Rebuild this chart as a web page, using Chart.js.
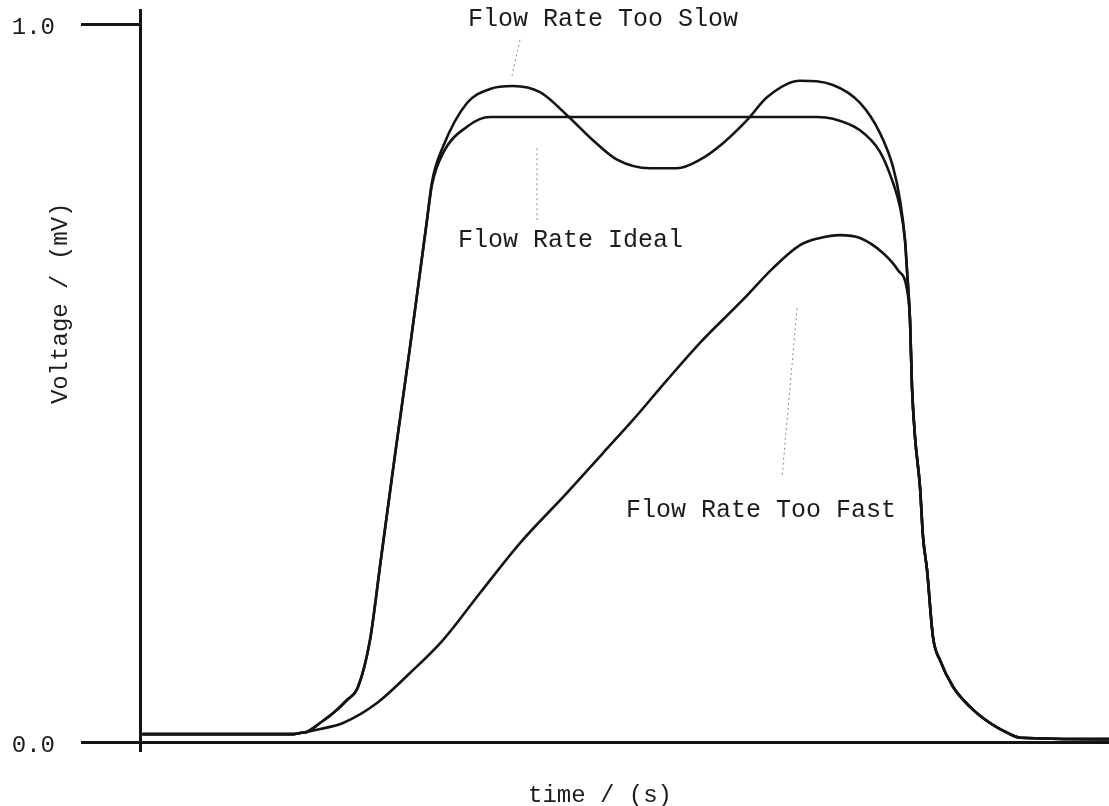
<!DOCTYPE html>
<html>
<head>
<meta charset="utf-8">
<script src="https://cdn.jsdelivr.net/npm/chart.js@4"></script>
<style>
  html, body { margin: 0; padding: 0; background: #fff; }
  #wrap { width: 1109px; height: 806px; position: relative; }
</style>
</head>
<body>
<div id="wrap"><canvas id="c"></canvas></div>
<script>
// Detector trace for three flow rates: voltage against time.
const idealTime = [0.3, 15.3, 16.0, 16.7, 18.0, 19.3, 20.7, 21.8, 23.0, 24.05, 25.5, 27.0, 28.25, 28.7, 29.2, 30.3, 32.7, 35.0, 51.0, 67.7, 69.3, 72.0, 74.0, 75.2, 76.0, 76.5, 76.7, 77.0, 77.2, 77.5, 78.0, 78.3, 78.7, 79.3, 80.0, 81.3, 83.0, 85.0, 86.7, 88.0, 96.9];
const idealVoltage = [0.011, 0.011, 0.0125, 0.014, 0.0265, 0.040, 0.0585, 0.0766, 0.142, 0.250, 0.400, 0.550, 0.680, 0.727, 0.776, 0.820, 0.857, 0.8705, 0.8705, 0.8705, 0.868, 0.852, 0.822, 0.783, 0.745, 0.699, 0.657, 0.588, 0.494, 0.425, 0.355, 0.286, 0.240, 0.146, 0.114, 0.077, 0.049, 0.0265, 0.013, 0.006, 0.004];

const slowTime = [0.3, 15.3, 16.0, 16.7, 18.0, 19.3, 20.7, 21.8, 23.0, 24.05, 25.5, 27.0, 28.25, 28.7, 29.2, 30.3, 32.7, 35.0, 37.3, 40.0, 42.7, 45.3, 47.7, 51.0, 53.7, 56.0, 58.3, 60.7, 62.7, 66.0, 69.3, 72.0, 74.0, 75.3, 76.0, 76.5, 76.7, 77.0, 77.2, 77.5, 78.0, 78.3, 78.7, 79.3, 80.0, 81.3, 83.0, 85.0, 86.7, 88.0, 96.9];
const slowVoltage = [0.011, 0.011, 0.0125, 0.014, 0.0265, 0.040, 0.0585, 0.0766, 0.142, 0.250, 0.400, 0.550, 0.680, 0.727, 0.780, 0.829, 0.890, 0.9095, 0.9136, 0.905, 0.873, 0.838, 0.811, 0.799, 0.799, 0.811, 0.834, 0.866, 0.898, 0.921, 0.915, 0.890, 0.848, 0.801, 0.755, 0.699, 0.657, 0.588, 0.494, 0.425, 0.355, 0.286, 0.240, 0.146, 0.114, 0.077, 0.049, 0.0265, 0.013, 0.006, 0.004];

const fastTime = [0.3, 15.3, 16.0, 18.0, 20.3, 23.7, 27.0, 30.3, 34.0, 38.0, 42.7, 46.3, 49.3, 52.7, 56.0, 60.3, 63.3, 66.0, 68.0, 70.0, 72.0, 74.3, 75.8, 76.7, 77.0, 77.2, 77.5, 78.0, 78.3, 78.7, 79.3, 80.0, 81.3, 83.0, 85.0, 86.7, 88.0, 96.9];
const fastVoltage = [0.011, 0.011, 0.0125, 0.018, 0.0265, 0.0543, 0.0961, 0.142, 0.2075, 0.277, 0.347, 0.4025, 0.4485, 0.504, 0.556, 0.616, 0.660, 0.692, 0.702, 0.706, 0.702, 0.681, 0.657, 0.630, 0.588, 0.494, 0.425, 0.355, 0.286, 0.240, 0.146, 0.114, 0.077, 0.049, 0.0265, 0.013, 0.006, 0.004];

const yTickValues = [0, 1.0];
const xTickValues = [0];

const curveNames = ['Flow Rate Too Slow', 'Flow Rate Ideal', 'Flow Rate Too Fast'];
const labelTime = [32.8, 31.8, 48.6];
const labelVoltage = [1.007, 0.698, 0.323];
const leaderStart = [[38.0, 0.978], [39.7, 0.827], [65.7, 0.604]];
const leaderEnd = [[37.2, 0.928], [39.7, 0.727], [64.2, 0.368]];

const yTitle = 'Voltage / (mV)';
const xTitle = 'time / (s)';

const FONT = '"Liberation Mono", "Courier New", monospace';
const INK = '#141414';

const toPoints = (t, v) => t.map((x, i) => ({ x, y: v[i] }));

const curveStyle = {
  borderColor: INK,
  borderWidth: 2.6,
  pointRadius: 0,
  fill: false,
  cubicInterpolationMode: 'monotone',
  borderCapStyle: 'round',
  borderJoinStyle: 'round'
};

const notes = {
  id: 'notes',
  afterDraw(chart) {
    const { ctx, scales: { x, y }, chartArea } = chart;
    ctx.save();
    // leader lines from each caption to its curve
    ctx.strokeStyle = '#8a8a8a';
    ctx.lineWidth = 1;
    ctx.setLineDash([2, 3]);
    leaderStart.forEach((s, i) => {
      const e = leaderEnd[i];
      ctx.beginPath();
      ctx.moveTo(x.getPixelForValue(s[0]), y.getPixelForValue(s[1]));
      ctx.lineTo(x.getPixelForValue(e[0]), y.getPixelForValue(e[1]));
      ctx.stroke();
    });
    ctx.setLineDash([]);

    // curve captions
    ctx.fillStyle = '#1c1c1c';
    ctx.font = '25px ' + FONT;
    ctx.textAlign = 'left';
    ctx.textBaseline = 'middle';
    curveNames.forEach((name, i) => {
      ctx.fillText(name, x.getPixelForValue(labelTime[i]), y.getPixelForValue(labelVoltage[i]));
    });

    // axis titles
    ctx.font = '24px ' + FONT;
    ctx.textAlign = 'center';
    ctx.fillText(xTitle, x.getPixelForValue(46.0), chartArea.bottom + 54);
    ctx.save();
    ctx.translate(chartArea.left - 79, y.getPixelForValue(0.611));
    ctx.rotate(-Math.PI / 2);
    ctx.fillText(yTitle, 0, 0);
    ctx.restore();
    ctx.restore();
  }
};

new Chart(document.getElementById('c'), {
  type: 'line',
  data: {
    datasets: [
      { label: curveNames[0], data: toPoints(slowTime, slowVoltage), ...curveStyle },
      { label: curveNames[1], data: toPoints(idealTime, idealVoltage), ...curveStyle },
      { label: curveNames[2], data: toPoints(fastTime, fastVoltage), ...curveStyle }
    ]
  },
  options: {
    responsive: true,
    maintainAspectRatio: false,
    animation: false,
    layout: { padding: { top: 10, left: 0, right: 0, bottom: 0 } },
    plugins: { legend: { display: false }, tooltip: { enabled: false } },
    scales: {
      x: {
        type: 'linear',
        min: 0,
        max: 96.9,
        afterBuildTicks: s => { s.ticks = xTickValues.map(v => ({ value: v })); },
        afterFit: s => { s.height = 64; s.paddingLeft = 0; s.paddingRight = 0; },
        ticks: { display: false },
        grid: { drawOnChartArea: false, drawTicks: true, tickLength: 10, tickColor: INK, tickWidth: 3, lineWidth: 3, color: INK },
        border: { display: true, color: INK, width: 3 }
      },
      y: {
        type: 'linear',
        min: 0,
        max: 1.0195,
        afterBuildTicks: s => { s.ticks = yTickValues.map(v => ({ value: v })); },
        afterFit: s => { s.width = 140; s.paddingTop = 0; s.paddingBottom = 0; },
        ticks: {
          callback: v => Number(v).toFixed(1),
          font: { family: FONT, size: 24 },
          color: '#1c1c1c',
          padding: 26,
          labelOffset: 4
        },
        grid: { drawOnChartArea: false, drawTicks: true, tickLength: 59, tickColor: INK, tickWidth: 3, lineWidth: 3, color: INK },
        border: { display: true, color: INK, width: 3 }
      }
    }
  },
  plugins: [notes]
});
</script>
</body>
</html>
